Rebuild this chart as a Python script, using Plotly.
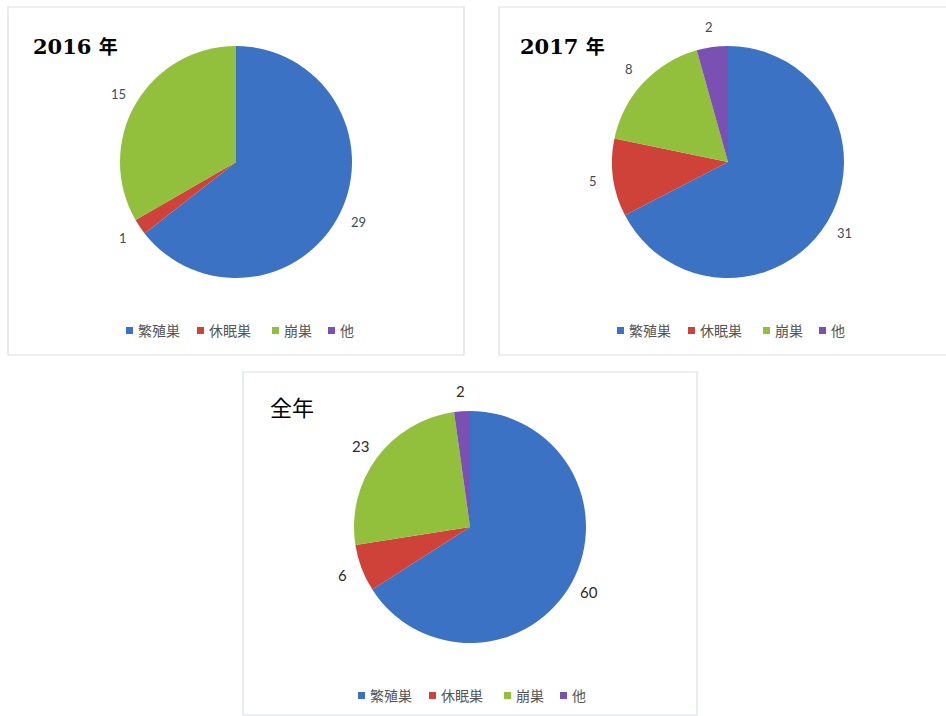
import math
import plotly.graph_objects as go

W, H = 946, 716

# Nest categories and counts per period
categories = ["繁殖巣", "休眠巣", "崩巣", "他"]
counts_2016 = [29, 1, 15, 0]
counts_2017 = [31, 5, 8, 2]
counts_all = [60, 6, 23, 2]
years = ["2016", "2017"]
year_suffix = "年"
title_all = "全年"

colors = ["#3B72C4", "#CF423A", "#93C03C", "#7B50B3"]


# pixel layout helpers (origin top-left)
def px_x(x):
    return x / W


def px_y(y):
    return 1 - y / H


R = 116
panels = [
    # values, pie centre (x, y), legend left x, legend y, value label size
    dict(vals=counts_2016, cx=236, cy=162, lx=126, ly=330, fs=13, fc="#3E4B5C"),
    dict(vals=counts_2017, cx=728, cy=162, lx=617, ly=330, fs=13, fc="#3E4B5C"),
    dict(vals=counts_all, cx=470, cy=527, lx=358, ly=695, fs=15, fc="#2A2A2A"),
]

fig = go.Figure()
annotations = []
shapes = []

for p in panels:
    vals, cx, cy = p["vals"], p["cx"], p["cy"]
    fig.add_trace(go.Pie(
        labels=categories,
        values=vals,
        sort=False,
        direction="clockwise",
        rotation=0,
        marker=dict(colors=colors, line=dict(width=0)),
        textinfo="none",
        domain=dict(x=[px_x(cx - R), px_x(cx + R)], y=[px_y(cy + R), px_y(cy - R)]),
        showlegend=False,
        hoverinfo="label+value",
    ))

    # value labels just outside each slice, at its mid angle (clockwise from 12 o'clock)
    total = sum(vals)
    cum = 0
    for v in vals:
        if v > 0:
            mid = (cum + v / 2) / total * 2 * math.pi
            lr = R + 20
            annotations.append(dict(
                text=str(v), x=px_x(cx + lr * math.sin(mid)), y=px_y(cy - lr * math.cos(mid)),
                xanchor="center", yanchor="middle", showarrow=False,
                font=dict(family="Lato, Open Sans, sans-serif", size=p["fs"], color=p["fc"]),
            ))
        cum += v

    # legend row: small colour square followed by the category name
    offsets = [0, 71, 146, 202]
    for name, col, off in zip(categories, colors, offsets):
        sx = p["lx"] + off
        shapes.append(dict(type="rect", xref="paper", yref="paper",
                           x0=px_x(sx), x1=px_x(sx + 7), y0=px_y(p["ly"] + 4), y1=px_y(p["ly"] - 3),
                           line=dict(width=0), fillcolor=col))
        annotations.append(dict(
            text=name, x=px_x(sx + 10), y=px_y(p["ly"]), xanchor="left", yanchor="middle",
            showarrow=False,
            font=dict(family="Noto Sans CJK JP, sans-serif", size=14, color="#555555"),
        ))

# panel frames
for x0, y0, x1, y1 in [(8, 7, 464, 355), (499, 7, 950, 355), (243, 372, 697, 715)]:
    shapes.append(dict(type="rect", xref="paper", yref="paper", layer="below",
                       x0=px_x(x0), x1=px_x(x1), y0=px_y(y1), y1=px_y(y0),
                       line=dict(color="#D9E0E8", width=1.2), fillcolor="rgba(0,0,0,0)"))

# panel titles
for yr, tx in zip(years, [31, 518]):
    annotations.append(dict(
        text="<b>" + yr + " <span style='font-family:Noto Sans CJK JP;font-size:19px'>"
             + year_suffix + "</span></b>",
        x=px_x(tx), y=px_y(45), xanchor="left", yanchor="middle", showarrow=False,
        font=dict(family="DejaVu Serif, serif", size=21, color="#000000"),
    ))
annotations.append(dict(
    text=title_all, x=px_x(268), y=px_y(406), xanchor="left", yanchor="middle", showarrow=False,
    font=dict(family="Noto Sans CJK JP, sans-serif", size=22, color="#000000"),
))

for a in annotations:
    a.update(xref="paper", yref="paper")

fig.update_layout(
    width=W, height=H,
    margin=dict(l=0, r=0, t=0, b=0),
    paper_bgcolor="white",
    plot_bgcolor="white",
    shapes=shapes,
    annotations=annotations,
    showlegend=False,
)

fig.write_html("out.html")
